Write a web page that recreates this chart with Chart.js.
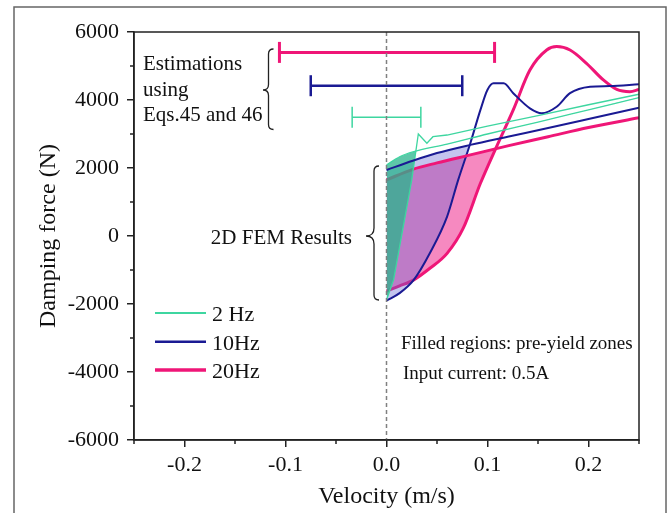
<!DOCTYPE html>
<html>
<head>
<meta charset="utf-8">
<script src="https://cdn.jsdelivr.net/npm/chart.js@4.4.1/dist/chart.umd.min.js"></script>
<style>
  html, body { margin: 0; padding: 0; background: #fff; }
  canvas { display: block; }
</style>
</head>
<body>
<canvas id="chart" width="669" height="513"></canvas>
<script>
// axis ticks
const xTicks = [-0.2, -0.1, 0, 0.1, 0.2];
const xMinor = [-0.25, -0.15, -0.05, 0.05, 0.15, 0.25];
const yTicks = [-6000, -4000, -2000, 0, 2000, 4000, 6000];
const yMinor = [-5000, -3000, -1000, 1000, 3000, 5000];

// 2 Hz: upper and lower branches (velocity m/s, force N)
const v2Up = [0, 0.013, 0.027, 0.06, 0.1, 0.15, 0.2, 0.25];
const f2Up = [2090, 2330, 2480, 2700, 3000, 3350, 3710, 4070];
const v2Low = [0, 0.007, 0.016, 0.025, 0.0315, 0.04, 0.046, 0.06, 0.1, 0.15, 0.2, 0.25];
const f2Low = [-1880, -1290, 180, 1650, 3000, 2730, 2920, 2970, 3230, 3540, 3860, 4170];

// 10 Hz
const v10Up = [0, 0.026, 0.05, 0.083, 0.12, 0.16, 0.2, 0.25];
const f10Up = [1940, 2215, 2440, 2680, 2920, 3175, 3440, 3775];
const v10Low = [0, 0.013, 0.027, 0.043, 0.06, 0.071, 0.083, 0.093, 0.1, 0.106, 0.116, 0.1255, 0.142, 0.1536, 0.1685, 0.1817, 0.2015, 0.221, 0.25];
const f10Low = [-1900, -1680, -1290, -500, 570, 1650, 2730, 3710, 4300, 4490, 4490, 4200, 3755, 3610, 3800, 4200, 4390, 4410, 4460];

// 20 Hz
const v20Up = [0, 0.026, 0.05, 0.083, 0.12, 0.16, 0.2, 0.25];
const f20Up = [1650, 1960, 2150, 2385, 2650, 2920, 3190, 3480];
const v20Low = [0, 0.013, 0.027, 0.043, 0.06, 0.076, 0.093, 0.109, 0.1255, 0.142, 0.1586, 0.1685, 0.1817, 0.198, 0.2147, 0.228, 0.241, 0.25];
const f20Low = [-1620, -1470, -1290, -950, -510, 230, 1550, 2630, 3710, 4880, 5470, 5570, 5470, 5080, 4590, 4310, 4245, 4310];

// estimated pre-yield velocity ranges (Eqs. 45 and 46)
const est2 = [-0.034, 0.034], est2F = 3490;
const est10 = [-0.075, 0.075], est10F = 4420;
const est20 = [-0.106, 0.107], est20F = 5400;

const GREEN = '#3ed6a0', BLUE = '#1a1a93', MAG = '#ef1677';
const GREEN_FILL = 'rgba(40,180,140,0.75)';
const BLUE_FILL = 'rgba(100,100,210,0.38)';
const MAG_FILL = 'rgba(238,20,130,0.5)';
const NONE = 'rgba(0,0,0,0)';
const SERIF = '"Liberation Serif", "Times New Roman", serif';

const toPoints = (vs, fs) => vs.map((v, i) => ({ x: v, y: fs[i] }));

function curve(label, color, width, vs, fs, order, extra) {
  return Object.assign({
    label, data: toPoints(vs, fs),
    borderColor: color, borderWidth: width,
    pointRadius: 0, fill: false,
    cubicInterpolationMode: 'monotone', order
  }, extra || {});
}

function range(label, color, width, vs, f) {
  return {
    label, data: vs.map(v => ({ x: v, y: f })),
    borderColor: color, borderWidth: width,
    pointStyle: 'line', pointRotation: 90, pointRadius: 10.5,
    pointBorderColor: color, pointBorderWidth: width,
    fill: false, order: 1
  };
}

function brace(ctx, x, y1, y2, ym, curl, tip) {
  ctx.beginPath();
  ctx.moveTo(x + curl, y1);
  ctx.quadraticCurveTo(x, y1, x, y1 + curl);
  ctx.lineTo(x, ym - tip);
  ctx.quadraticCurveTo(x, ym, x - tip, ym);
  ctx.quadraticCurveTo(x, ym, x, ym + tip);
  ctx.lineTo(x, y2 - curl);
  ctx.quadraticCurveTo(x, y2, x + curl, y2);
  ctx.stroke();
}

const decorations = {
  id: 'decorations',
  beforeDraw(chart) {
    const ctx = chart.ctx;
    ctx.save();
    ctx.fillStyle = '#fff';
    ctx.fillRect(0, 0, chart.width, chart.height);
    ctx.strokeStyle = '#666';
    ctx.lineWidth = 1.5;
    ctx.strokeRect(14, 7, 652, 530);
    ctx.restore();
  },
  afterDatasetsDraw(chart) {
    const { ctx, chartArea: a, scales: { x } } = chart;
    ctx.save();
    // zero-velocity line
    const x0 = x.getPixelForValue(0);
    ctx.strokeStyle = '#808080';
    ctx.lineWidth = 1.5;
    ctx.setLineDash([4, 3]);
    ctx.beginPath();
    ctx.moveTo(x0, a.top);
    ctx.lineTo(x0, a.bottom);
    ctx.stroke();
    ctx.setLineDash([]);
    // plot box
    ctx.strokeStyle = '#222';
    ctx.strokeRect(a.left, a.top, a.right - a.left, a.bottom - a.top);
    ctx.restore();
  },
  afterDraw(chart) {
    const { ctx, chartArea: a, scales: { x, y } } = chart;
    ctx.save();
    // minor ticks
    ctx.strokeStyle = '#222';
    ctx.lineWidth = 1.5;
    ctx.beginPath();
    xMinor.forEach(v => {
      const px = x.getPixelForValue(v);
      ctx.moveTo(px, a.bottom);
      ctx.lineTo(px, a.bottom + 4);
    });
    yMinor.forEach(v => {
      const py = y.getPixelForValue(v);
      ctx.moveTo(a.left - 4, py);
      ctx.lineTo(a.left, py);
    });
    ctx.stroke();

    // text notes
    ctx.fillStyle = '#111';
    ctx.textBaseline = 'alphabetic';
    ctx.font = '21px ' + SERIF;
    ctx.textAlign = 'left';
    ctx.fillText('Estimations', 143, 70);
    ctx.fillText('using', 143, 95.5);
    ctx.fillText('Eqs.45 and 46', 143, 121);
    ctx.textAlign = 'right';
    ctx.fillText('2D FEM Results', 352, 244);
    ctx.textAlign = 'left';
    ctx.font = '19px ' + SERIF;
    ctx.fillText('Filled regions: pre-yield zones', 401, 349);
    ctx.fillText('Input current: 0.5A', 403, 379);

    ctx.strokeStyle = '#222';
    ctx.lineWidth = 1.3;
    brace(ctx, 268.5, 49, 129.5, 90, 5, 5.5);
    brace(ctx, 374, 166, 300, 236, 5, 8);

    // legend
    const items = [
      [chart.data.datasets[4], 1.8, 313, 321],
      [chart.data.datasets[2], 2.5, 341.7, 349.5],
      [chart.data.datasets[0], 3.5, 370, 378]
    ];
    ctx.font = '22px ' + SERIF;
    items.forEach(([ds, w, ly, by]) => {
      ctx.strokeStyle = ds.borderColor;
      ctx.lineWidth = w;
      ctx.beginPath();
      ctx.moveTo(155, ly);
      ctx.lineTo(206, ly);
      ctx.stroke();
      ctx.fillStyle = '#111';
      ctx.fillText(ds.label, 212, by);
    });
    ctx.restore();
  }
};

new Chart(document.getElementById('chart'), {
  type: 'line',
  data: {
    datasets: [
      curve('20Hz', MAG, 3, v20Up, f20Up, 5),
      curve('20Hz', MAG, 3, v20Low, f20Low, 7, { fill: { target: 0, above: NONE, below: MAG_FILL } }),
      curve('10Hz', BLUE, 2, v10Up, f10Up, 3),
      curve('10Hz', BLUE, 2, v10Low, f10Low, 6, { fill: { target: 2, above: NONE, below: BLUE_FILL } }),
      curve('2 Hz', GREEN, 1.3, v2Up, f2Up, 2),
      curve('2 Hz', GREEN, 1.3, v2Low, f2Low, 4, {
        cubicInterpolationMode: 'default', tension: 0,
        fill: { target: 4, above: NONE, below: GREEN_FILL }
      }),
      range('20Hz range', MAG, 3, est20, est20F),
      range('10Hz range', BLUE, 2.5, est10, est10F),
      range('2 Hz range', GREEN, 1.5, est2, est2F)
    ]
  },
  options: {
    responsive: false,
    devicePixelRatio: 1,
    animation: false,
    layout: { padding: { left: 14, right: 30, top: 32, bottom: 0 } },
    plugins: { legend: { display: false }, tooltip: { enabled: false } },
    scales: {
      x: {
        type: 'linear',
        min: -0.25, max: 0.25,
        afterBuildTicks: s => { s.ticks = xTicks.map(v => ({ value: v })); },
        afterFit: s => { s.height = 73; },
        grid: { drawOnChartArea: false, tickLength: 7, color: '#222', lineWidth: 1.5 },
        border: { color: '#222', width: 1.5 },
        ticks: {
          color: '#111', padding: 5, maxRotation: 0, autoSkip: false,
          font: { family: SERIF, size: 22 },
          callback: v => v.toFixed(1)
        },
        title: {
          display: true, text: 'Velocity (m/s)', color: '#111',
          font: { family: SERIF, size: 24 }, padding: { top: 0, bottom: 1.6 }
        }
      },
      y: {
        min: -6000, max: 6000,
        afterBuildTicks: s => { s.ticks = yTicks.map(v => ({ value: v })); },
        afterFit: s => { s.width = 120; },
        grid: { drawOnChartArea: false, tickLength: 7, color: '#222', lineWidth: 1.5 },
        border: { color: '#222', width: 1.5 },
        ticks: {
          color: '#111', padding: 8,
          font: { family: SERIF, size: 22 },
          callback: v => String(v)
        },
        title: {
          display: true, text: 'Damping force (N)', color: '#111',
          font: { family: SERIF, size: 24 }, padding: { top: 20.6, bottom: 0 }
        }
      }
    }
  },
  plugins: [decorations]
});
</script>
</body>
</html>
